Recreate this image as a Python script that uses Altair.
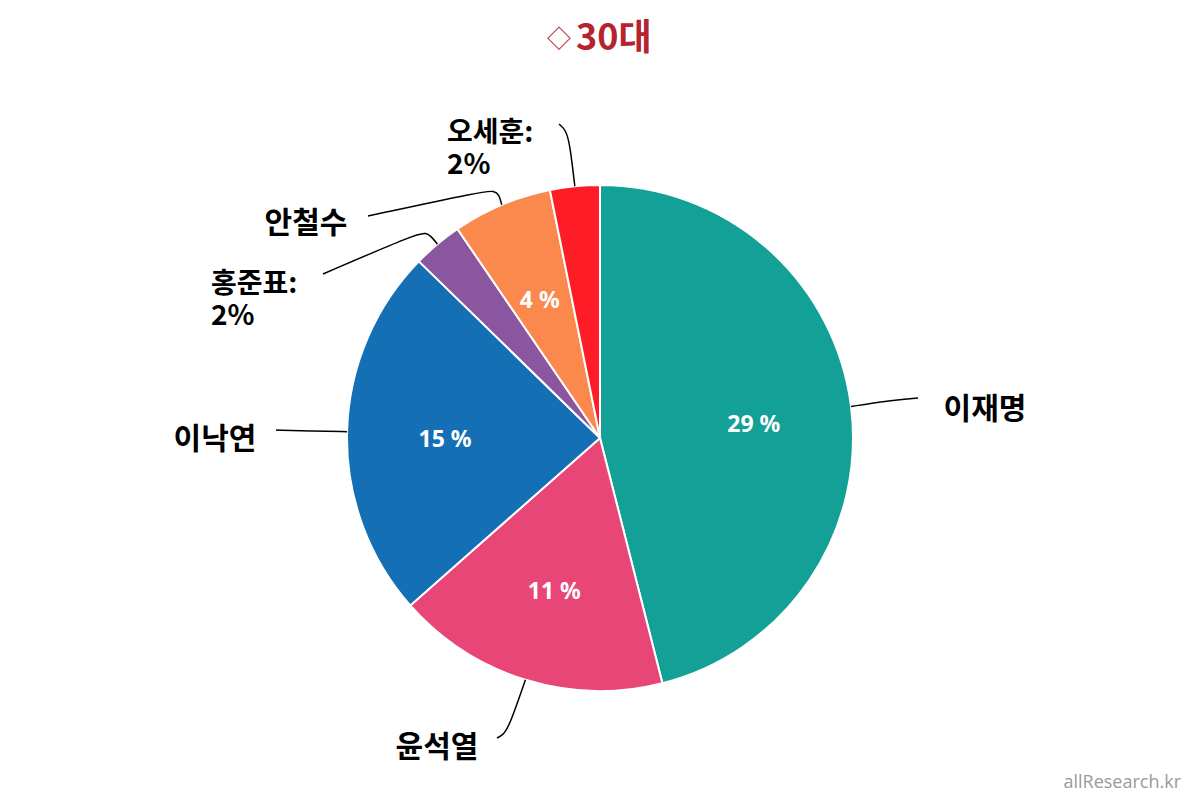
import altair as alt
import pandas as pd
import numpy as np

# ---------------- data ----------------
candidates = ["이재명", "윤석열", "이낙연", "홍준표", "안철수", "오세훈"]
values = [29, 11, 15, 2, 4, 2]
colors = ["#12a097", "#e84677", "#146fb4", "#8a56a0", "#fb884c", "#fe1c27"]
title_mark = "◇"
title_text = "30대"
watermark_text = "allResearch.kr"

# ---------------- layout ----------------
W, H = 1184, 790
OFF = 8                      # page margin
CX, CY = 600 - OFF, 438 - OFF
R = 253
INNER_R = 155
LINE_H = 32
KFONT = "Noto Sans CJK KR"
TITLE_COLOR = "#b5232f"

# label anchors (page coords; y of first line) and leader-line bend points (page coords)
label_pos = {
    "이재명": (985, 410, "center"),
    "윤석열": (437, 748, "center"),
    "이낙연": (215, 440, "center"),
    "홍준표": (211, 285, "left"),
    "안철수": (306, 224, "center"),
    "오세훈": (447, 134, "left"),
}
leader_bends = {
    "이재명": [(885, 401), (918, 398)],
    "윤석열": [(509, 727), (503, 735), (497, 738)],
    "이낙연": [(312, 431), (276, 430)],
    "홍준표": [(431, 236), (426, 233), (418, 233), (323, 274)],
    "안철수": [(499, 194), (494, 191), (484, 191), (368, 216)],
    "오세훈": [(570, 145), (566, 130), (559, 124)],
}

total = sum(values)
cum = np.cumsum([0] + values)
mids = [(cum[i] + values[i] / 2) / total * 2 * np.pi for i in range(len(values))]

pie_df = pd.DataFrame({
    "name": candidates,
    "value": values,
    "idx": list(range(len(candidates))),
    "inner": [f"{v} %" if v >= 3 else "" for v in values],
})

# leader lines
rows = []
for i, n in enumerate(candidates):
    a = mids[i]
    sx, sy = CX + R * np.sin(a), CY - R * np.cos(a)
    pts = [(sx, sy)] + [(px - OFF, py - OFF) for px, py in leader_bends[n]]
    for k, (px, py) in enumerate(pts):
        rows.append({"name": n, "k": k, "x": px, "y": py})
lines_df = pd.DataFrame(rows)

# outside labels: small slices get "name:" plus a second line with the percentage
lab_rows = []
for n, v in zip(candidates, values):
    px, py, al = label_pos[n]
    lines = [n] if v >= 3 else [f"{n}:", f"{v}%"]
    for j, t in enumerate(lines):
        lab_rows.append({"name": n, "label": t, "x": px - OFF,
                         "y": py - OFF + j * LINE_H, "al": al})
lab_df = pd.DataFrame(lab_rows)

# ---------------- chart ----------------
arcs = alt.Chart(pie_df).mark_arc(
    outerRadius=R, stroke="white", strokeWidth=2
).encode(
    theta=alt.Theta("value:Q", stack=True),
    color=alt.Color("name:N", scale=alt.Scale(domain=candidates, range=colors), legend=None),
    order=alt.Order("idx:Q"),
    x=alt.value(CX), y=alt.value(CY),
)

inner = alt.Chart(pie_df).mark_text(
    radius=INNER_R, font="Noto Sans", fontSize=23, fontWeight="bold", color="white", dy=6
).encode(
    theta=alt.Theta("value:Q", stack=True),
    order=alt.Order("idx:Q"),
    detail="name:N",
    text="inner:N",
    x=alt.value(CX), y=alt.value(CY),
)

leaders = alt.Chart(lines_df).mark_line(
    interpolate="basis", color="black", strokeWidth=1.5
).encode(
    x=alt.X("x:Q", scale=None, axis=None),
    y=alt.Y("y:Q", scale=None, axis=None),
    detail="name:N",
    order="k:Q",
)

def label_layer(al, size):
    return alt.Chart(lab_df).transform_filter(
        alt.datum.al == al
    ).mark_text(
        font=KFONT, fontSize=size, fontWeight="bold", color="black",
        align=al, baseline="middle"
    ).encode(
        x=alt.X("x:Q", scale=None, axis=None),
        y=alt.Y("y:Q", scale=None, axis=None),
        text="label:N",
    )

title_sym = alt.Chart(pd.DataFrame({"t": [title_mark]})).mark_text(
    font=KFONT, fontSize=24, color=TITLE_COLOR, align="center", baseline="middle"
).encode(text="t:N", x=alt.value(559 - OFF), y=alt.value(40 - OFF))

title = alt.Chart(pd.DataFrame({"t": [title_text]})).mark_text(
    font=KFONT, fontSize=36, fontWeight="bold", color=TITLE_COLOR,
    align="left", baseline="middle"
).encode(text="t:N", x=alt.value(576 - OFF), y=alt.value(39 - OFF))

wm = alt.Chart(pd.DataFrame({"t": [watermark_text]})).mark_text(
    font="Open Sans", fontSize=18, color="#9a9a9a", align="right", baseline="middle"
).encode(text="t:N", x=alt.value(1181 - OFF), y=alt.value(783 - OFF))

chart = alt.layer(
    arcs, inner, leaders, label_layer("center", 30), label_layer("left", 28),
    title_sym, title, wm
).properties(
    width=W, height=H, padding=0, autosize="none"
).configure(background="white").configure_view(stroke=None)

chart.save("out.html", embed_options={"renderer": "svg", "actions": False})
